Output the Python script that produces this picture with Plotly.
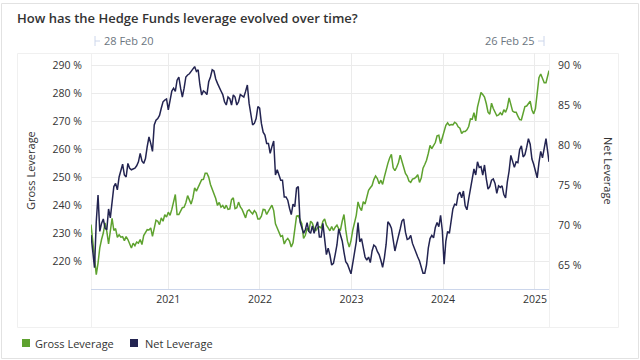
import pandas as pd
import plotly.graph_objects as go

# ---------------- data ----------------
dates = list(pd.date_range("2020-02-28", periods=261, freq="7D").strftime("%Y-%m-%d")) + ["2025-02-26"]

gross = [
    233.2, 227.9, 220.7, 215.4, 219.5, 224.9, 227.9, 230.2, 233.8, 230.8,
    226.3, 230.2, 235.4, 231.1, 231.8, 228.7, 229.6, 228.7, 228.9, 227.5,
    228.9, 227.9, 226.1, 224.9, 226.6, 225.7, 227.0, 226.6, 227.9, 226.1,
    229.3, 230.2, 231.4, 231.3, 232.0, 229.0, 232.6, 234.8, 234.4, 233.2,
    235.6, 234.4, 236.7, 235.9, 237.6, 236.5, 238.6, 241.6, 243.9, 236.8,
    236.8, 238.0, 239.2, 239.4, 241.0, 243.5, 241.8, 240.5, 242.7, 246.3,
    245.1, 246.4, 247.7, 249.2, 249.3, 251.5,
    251.5, 250.1, 247.5, 246.0, 244.5, 242.5, 240.0, 241.1, 239.4, 240.0,
    238.9, 240.1, 238.6, 238.8, 242.1, 242.7, 238.9, 239.2, 241.2, 239.5,
    238.6, 236.8, 235.6, 238.0, 238.5, 237.7, 237.0, 238.2, 237.4, 235.2,
    235.2, 236.2, 238.6, 238.5, 236.8, 238.0, 239.0, 240.1, 238.2, 233.5,
    232.0, 230.7, 229.0, 229.3, 226.3, 227.6, 228.3, 227.3, 225.2, 226.7,
    231.1, 236.2, 236.4, 234.8, 233.5, 228.3, 229.4, 231.9, 230.8, 234.4,
    233.7, 231.8, 231.1, 232.1, 232.5, 232.0,
    234.4, 235.2, 233.0, 232.0, 231.0, 232.5, 231.1, 232.3, 233.0, 231.7,
    231.3, 234.4, 236.8, 231.4, 227.3, 225.2, 227.5, 231.2, 233.9, 236.5,
    241.3, 239.2, 238.2, 241.4, 240.5, 243.2, 245.4, 246.3, 247.1, 249.2,
    250.5, 249.6, 247.7, 249.0, 247.5, 250.2, 253.0, 255.0, 256.9, 258.2,
    253.4, 252.4, 253.6, 255.2, 257.9, 255.5, 253.9, 251.4, 250.5, 248.7,
    248.2, 249.4, 249.6, 250.1, 251.0, 248.2, 249.8, 253.3, 254.6, 256.1,
    258.5, 261.4, 260.2, 261.3, 262.4, 264.8,
    265.0, 262.0, 264.2, 267.2, 268.5, 269.4, 268.5, 268.8, 268.7, 269.6,
    269.2, 268.0, 267.5, 265.6, 266.3, 266.3, 266.9, 268.1, 270.8, 270.7,
    273.0, 270.1, 275.0, 277.6, 280.2, 279.5, 278.6, 276.3, 273.2, 272.5,
    276.4, 274.5, 273.3, 271.9, 272.2, 273.0, 272.2, 274.1, 273.2, 274.9,
    278.3, 275.8, 273.6, 273.2, 273.2, 271.8, 270.6, 270.5, 273.1, 275.2,
    275.4, 276.1, 277.1, 274.0, 272.6, 274.5, 281.4, 285.5, 286.8, 285.5,
    283.7, 283.7, 285.8, 288.0,
]

net = [
    68.75, 66.25, 64.67, 70.4, 73.75, 69.2, 70.2, 70.75, 69.6, 69.4,
    72.0, 70.9, 73.3, 74.8, 75.2, 74.4, 76.0, 76.9, 77.6, 76.25,
    76.0, 77.7, 77.1, 76.9, 77.0, 77.1, 77.4, 77.9, 78.96, 78.0,
    77.7, 78.3, 79.8, 81.0, 80.2, 79.2, 82.5, 83.1, 83.3, 83.7,
    84.6, 85.4, 85.6, 85.75, 84.4, 85.4, 86.75, 87.1, 86.7, 88.1,
    88.5, 87.1, 86.0, 87.1, 88.5, 88.75, 88.9, 89.2, 89.5, 89.8,
    89.2, 89.4, 87.5, 86.25, 86.75, 86.6,
    86.3, 87.9, 88.5, 89.4, 89.25, 88.25, 87.7, 87.1, 86.75, 86.3,
    85.4, 85.0, 86.0, 85.8, 85.0, 86.25, 86.0, 85.0, 85.4, 86.3,
    86.2, 86.0, 86.7, 87.5, 85.2, 83.96, 82.5, 82.7, 83.3, 84.8,
    84.6, 82.7, 81.6, 81.25, 80.2, 80.2, 78.96, 79.8, 80.5, 76.25,
    76.9, 76.25, 75.6, 75.6, 73.5, 73.5, 73.1, 72.1, 71.3, 72.6,
    72.3, 74.6, 74.8, 70.4, 69.6, 68.96, 69.4, 70.3, 69.2, 68.96,
    69.9, 68.96, 69.8, 70.4, 68.5, 68.5,
    70.2, 68.3, 66.3, 67.1, 66.25, 65.0, 65.2, 66.3, 67.5, 69.5,
    68.75, 68.0, 66.6, 65.4, 65.1, 64.4, 63.9, 65.2, 66.5, 67.9,
    70.3, 67.9, 68.3, 67.1, 66.0, 65.6, 66.0, 65.3, 66.75, 67.5,
    67.3, 66.7, 66.3, 65.6, 64.7, 65.9, 67.6, 70.4, 70.1, 69.6,
    67.9, 66.75, 67.7, 68.5, 69.5, 70.5, 70.75, 69.1, 68.2, 68.3,
    68.7, 67.7, 67.1, 66.4, 66.0, 65.5, 64.7, 63.96, 63.96, 65.0,
    67.1, 68.3, 68.7, 68.4, 69.7, 70.3,
    69.8, 71.2, 69.25, 65.1, 68.0, 69.2, 68.96, 70.6, 72.0, 72.6,
    72.5, 73.8, 74.1, 73.4, 74.25, 72.4, 71.9, 73.25, 74.4, 76.0,
    77.0, 76.25, 77.9, 77.2, 77.3, 76.25, 77.5, 75.8, 74.5, 74.8,
    75.6, 75.75, 75.2, 73.95, 74.9, 74.7, 74.9, 73.8, 73.4, 75.4,
    76.75, 78.7, 77.8, 77.2, 77.9, 77.8, 79.4, 79.9, 78.5, 78.8,
    79.7, 80.8, 80.1, 78.25, 77.6, 76.75, 75.9, 77.8, 79.2, 78.4,
    79.4, 80.8, 79.1, 77.9,
]

series_names = ["Gross Leverage", "Net Leverage"]
gross_ticks = [220, 230, 240, 250, 260, 270, 280, 290]
net_ticks = [65, 70, 75, 80, 85, 90]
title_text = "How has the Hedge Funds leverage evolved over time?"

assert len(dates) == len(gross) == len(net), (len(dates), len(gross), len(net))

# ---------------- style ----------------
GREEN = "#5ea22f"
NAVY = "#232451"
TEXT = "#333333"
GRID = "#ebebeb"
FRAME = "#f0f0f0"
FONT = "Open Sans"

W, H = 640, 360
L, R, T, B = 91, 91, 53, 71
PW, PH = W - L - R, H - T - B


def px_x(px):
    return (px - L) / PW


def px_y(py):
    return (H - B - py) / PH


fig = go.Figure()
fig.add_trace(go.Scatter(x=dates, y=gross, mode="lines", name=series_names[0],
                         line=dict(color=GREEN, width=1.5), yaxis="y", showlegend=False,
                         hoverinfo="skip"))
fig.add_trace(go.Scatter(x=dates, y=net, mode="lines", name=series_names[1],
                         line=dict(color=NAVY, width=1.5), yaxis="y2", showlegend=False,
                         hoverinfo="skip"))

fig.update_layout(
    width=W, height=H,
    margin=dict(l=L, r=R, t=T, b=B, pad=0),
    paper_bgcolor="white", plot_bgcolor="rgba(0,0,0,0)",
    font=dict(family=FONT, size=11, color=TEXT),
    title=dict(text=title_text, x=17 / W, xanchor="left", xref="container",
               y=1 - 18 / H, yanchor="middle", yref="container",
               font=dict(family=FONT, size=13, color=TEXT, weight=600)),
    xaxis=dict(type="date", range=[dates[0], dates[-1]], tick0="2021-01-01", dtick="M12",
               tickformat="%Y", showgrid=True, gridcolor=GRID, gridwidth=1,
               showline=True, linecolor="#ccd6eb", linewidth=1, ticks="",
               tickfont=dict(size=10.5, color=TEXT), zeroline=False, automargin=False),
    yaxis=dict(range=[210.28, 294.27], tickmode="array", tickvals=gross_ticks,
               ticktext=[f"{v} %" for v in gross_ticks],
               showgrid=True, gridcolor=GRID, zeroline=False, ticks="",
               ticklabelstandoff=8, tickfont=dict(size=10.5, color=TEXT), automargin=False),
    yaxis2=dict(range=[62.0, 91.5], tickmode="array", tickvals=net_ticks,
                ticktext=[f"{v} %" for v in net_ticks],
                overlaying="y", side="right", showgrid=False, zeroline=False, ticks="",
                ticklabelstandoff=8, tickfont=dict(size=10.5, color=TEXT), automargin=False),
)

# faint frame lines
fig.add_shape(type="rect", xref="paper", yref="paper", x0=px_x(1.5), x1=px_x(638.5),
              y0=px_y(358.5), y1=px_y(3.5), line=dict(color="#e2e2e2", width=1), layer="below")
fig.add_shape(type="rect", xref="paper", yref="paper", x0=px_x(17.5), x1=px_x(618.5),
              y0=px_y(327.5), y1=px_y(53.5), line=dict(color=FRAME, width=1), layer="below")
for xv in [91.5, 549.5]:
    fig.add_shape(type="line", xref="paper", yref="paper", x0=px_x(xv), x1=px_x(xv),
                  y0=px_y(327.5), y1=px_y(53.5), line=dict(color=FRAME, width=1), layer="below")

# axis titles
fig.add_annotation(text=series_names[0], xref="paper", yref="paper", x=px_x(30), y=px_y(171),
                   textangle=-90, showarrow=False, font=dict(size=11, color=TEXT),
                   xanchor="center", yanchor="middle")
fig.add_annotation(text=series_names[1], xref="paper", yref="paper", x=px_x(609), y=px_y(171),
                   textangle=90, showarrow=False, font=dict(size=11, color=TEXT),
                   xanchor="center", yanchor="middle")

# navigator-like date labels above the plot
start_lbl = pd.Timestamp(dates[0]).strftime("%d %b %y")
end_lbl = pd.Timestamp(dates[-1]).strftime("%d %b %y")
fig.add_annotation(text=start_lbl, xref="paper", yref="paper", x=px_x(102), y=px_y(41),
                   xanchor="left", yanchor="middle", showarrow=False,
                   font=dict(size=11, color="#6b7580"))
fig.add_annotation(text=end_lbl, xref="paper", yref="paper", x=px_x(536), y=px_y(41),
                   xanchor="right", yanchor="middle", showarrow=False,
                   font=dict(size=11, color="#6b7580"))
for x0, x1 in [(95, 100), (538, 544)]:
    fig.add_shape(type="line", xref="paper", yref="paper", x0=px_x(x0), x1=px_x(x1),
                  y0=px_y(41), y1=px_y(41), line=dict(color="#ccd6eb", width=1))
for xv in [95, 544]:
    fig.add_shape(type="line", xref="paper", yref="paper", x0=px_x(xv), x1=px_x(xv),
                  y0=px_y(36), y1=px_y(46), line=dict(color="#ccd6eb", width=1))

# legend (manual)
for (sx, tx), col, name in [((22, 33), GREEN, series_names[0]), ((130, 143), NAVY, series_names[1])]:
    fig.add_shape(type="rect", xref="paper", yref="paper", x0=px_x(sx), x1=px_x(sx + 8),
                  y0=px_y(347), y1=px_y(339), fillcolor=col, line=dict(width=0))
    fig.add_annotation(text=name, xref="paper", yref="paper", x=px_x(tx), y=px_y(343),
                       xanchor="left", yanchor="middle", showarrow=False,
                       font=dict(size=11, color=TEXT))

fig.write_html("out.html", config={"displayModeBar": False},
               post_script="document.body.style.margin='0px';document.body.style.overflow='hidden';")
